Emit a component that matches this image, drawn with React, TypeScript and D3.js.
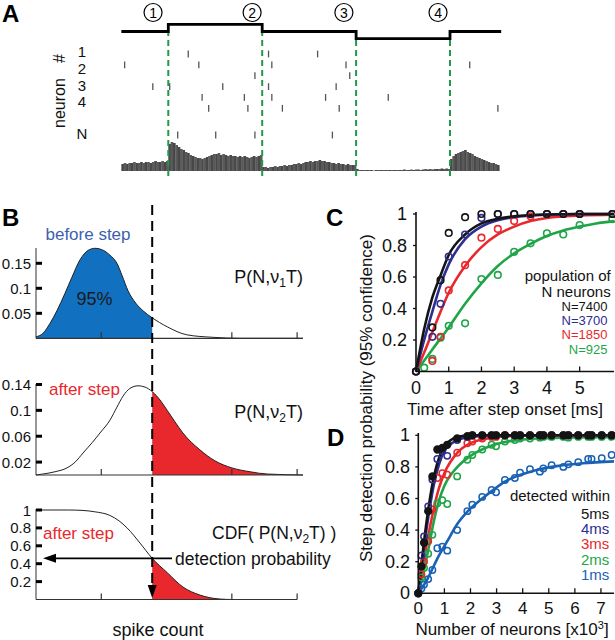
import React from 'react';
import * as d3 from 'd3';

const FONT = '"Liberation Sans", Arial, Helvetica, sans-serif';
const W = 615;
const H = 640;

// ---------------- Panel A data ----------------
const stepTimes = [0, 200, 600, 1000, 1400, 1618];
const stepLevels = [0, 1, 0, -1, 0, 0];
const markerTimes = [135, 557, 948, 1349];
const markerLabels = ['1', '2', '3', '4'];
const rowLabels = ['1', '2', '3', '4'];
const rasterSpikes: number[][] = [
  [285, 627, 836],
  [14, 330, 641, 957, 1484],
  [569, 973],
  [134, 206, 432, 627, 915],
  [344, 524, 641, 870, 1137],
  [372, 539, 686, 928, 1604],
  [240, 402, 569, 899],
];
const histBinMs = 10;
const histCounts = [
  7, 8, 7, 8, 8, 9, 8, 8, 9, 8, 9, 9, 8, 9, 10, 9, 9, 10, 9, 10,
  27, 29, 28, 26, 24, 22, 21, 19, 18, 16, 15, 14, 13, 13, 12, 13, 14, 15, 16, 17,
  17, 18, 16, 17, 16, 15, 16, 15, 15, 14, 15, 14, 15, 14, 13, 14, 15, 14, 15, 16,
  4, 4, 3, 4, 4, 5, 4, 5, 5, 6, 5, 6, 6, 7, 7, 8, 7, 8, 9, 9,
  10, 9, 10, 10, 11, 10, 10, 9, 9, 8, 8, 7, 8, 7, 7, 6, 7, 6, 6, 6,
  2, 1, 1, 1, 1, 1, 1, 0.5, 1, 1, 1, 1, 1, 1, 1, 1, 1, 1, 1, 1,
  1.5, 1, 1, 1.5, 1, 1.5, 1.5, 1, 1.5, 2, 1.5, 2, 1.5, 2, 2, 2, 2.5, 2, 2.5, 2,
  12, 15, 17, 18, 19, 20, 21, 19, 18, 17, 15, 14, 13, 12, 11, 10, 9, 8, 8, 7, 6,
];

// ---------------- Panel B data ----------------
const spikeThreshold = 1.78;
const pdfBefore: [number, number][] = [
  [0, 0.003], [0.107, 0.01], [0.215, 0.03], [0.32, 0.055], [0.444, 0.09], [0.55, 0.122],
  [0.674, 0.157], [0.8, 0.176], [0.904, 0.18], [1.03, 0.176], [1.134, 0.166], [1.24, 0.15],
  [1.32, 0.125], [1.41, 0.095], [1.53, 0.07], [1.64, 0.055], [1.78, 0.041], [2.01, 0.023],
  [2.31, 0.007], [2.71, 0.002], [3.13, 0.0], [4.09, 0],
];
const pdfAfter: [number, number][] = [
  [0, 0], [0.107, 0.0015], [0.29, 0.005], [0.475, 0.011], [0.6, 0.02], [0.72, 0.034],
  [0.86, 0.05], [0.98, 0.065], [1.134, 0.085], [1.24, 0.105], [1.333, 0.122], [1.44, 0.134],
  [1.563, 0.138], [1.67, 0.136], [1.78, 0.129], [1.9, 0.116], [2.01, 0.1], [2.13, 0.082],
  [2.25, 0.065], [2.51, 0.039], [2.74, 0.022], [3.0, 0.011], [3.28, 0.005], [3.54, 0.0015], [4.09, 0],
];
const cdfAfter: [number, number][] = [
  [0, 1], [0.5, 1], [0.72, 0.995], [0.9, 0.98], [1.13, 0.94], [1.27, 0.88], [1.395, 0.8],
  [1.594, 0.63], [1.78, 0.46], [2.01, 0.3], [2.25, 0.14], [2.51, 0.05], [2.82, 0.005], [3.02, 0], [4.0, 0],
];
const bTicksX = [1, 3, 4];
const b1TicksY = [0.05, 0.1, 0.15];
const b2TicksY = [0.02, 0.06, 0.1, 0.14];
const b3TicksY = [0.2, 0.4, 0.6, 0.8, 1];

// ---------------- Panel C data ----------------
const cSeriesNames = ['N=7400', 'N=3700', 'N=1850', 'N=925'];
const cPoints7400: [number, number][] = [[0, 0], [0.5, 0.28], [0.75, 0.58], [1, 0.88], [1.5, 0.98], [2, 1], [2.5, 1], [3, 1], [3.5, 1], [4, 1], [4.5, 1], [5, 1], [6, 1]];
const cPoints3700: [number, number][] = [[0, 0], [0.5, 0.22], [0.75, 0.43], [1, 0.73], [1.5, 0.87], [2, 0.975], [2.5, 1], [3, 1], [3.5, 1], [4, 1], [4.5, 1], [5, 1], [6, 1]];
const cPoints1850: [number, number][] = [[0, 0], [0.5, 0.067], [0.75, 0.22], [1, 0.515], [1.5, 0.675], [2, 0.85], [2.5, 0.905], [3, 0.955], [3.5, 0.985], [4, 1], [4.5, 1], [5, 1], [6, 1]];
const cPoints925: [number, number][] = [[0, 0], [0.25, 0.024], [0.5, 0.08], [0.75, 0.215], [1, 0.29], [1.5, 0.306], [2, 0.587], [2.5, 0.613], [3, 0.76], [3.5, 0.814], [4, 0.877], [4.5, 0.87], [5, 0.93], [6, 0.968]];
const cFit7400: [number, number][] = [[0, 0], [0.25, 0.27], [0.5, 0.47], [0.75, 0.61], [1, 0.74], [1.5, 0.87], [2, 0.94], [2.5, 0.97], [3, 0.985], [4, 0.997], [5, 1], [6.05, 1]];
const cFit3700: [number, number][] = [[0, 0], [0.25, 0.2], [0.5, 0.38], [0.75, 0.55], [1, 0.68], [1.5, 0.84], [2, 0.92], [2.5, 0.96], [3, 0.98], [4, 0.995], [5, 1], [6.05, 1]];
const cFit1850: [number, number][] = [[0, 0], [0.25, 0.12], [0.5, 0.25], [0.75, 0.38], [1, 0.5], [1.5, 0.67], [2, 0.79], [2.5, 0.87], [3, 0.92], [3.5, 0.955], [4, 0.975], [5, 0.99], [6.05, 0.995]];
const cFit925: [number, number][] = [[0, 0], [0.5, 0.14], [1, 0.28], [1.5, 0.43], [2, 0.56], [2.5, 0.67], [3, 0.75], [3.5, 0.81], [4, 0.86], [4.5, 0.895], [5, 0.92], [5.5, 0.94], [6.05, 0.955]];
const cTicksX = [0, 1, 2, 3, 4, 5];
const cTicksY = [0.2, 0.4, 0.6, 0.8, 1];

// ---------------- Panel D data ----------------
const dNames = ['5ms', '4ms', '3ms', '2ms', '1ms'];
const dNeurons = [0, 0.12, 0.22, 0.38, 0.54, 0.73, 0.92, 1.11, 1.49, 1.88, 2.07, 2.45, 2.81, 2.98, 3.32, 3.7, 3.9, 4.28, 4.66, 4.79, 5.11, 5.56, 5.75, 6.13, 6.51, 6.64, 7.03, 7.41];
const d5ms = [0, 0.17, 0.32, 0.52, 0.74, 0.91, 0.92, 0.94, 0.98, 0.995, 1, 1, 1, 1, 1, 1, 1, 1, 1, 1, 1, 1, 1, 1, 1, 1, 1, 1];
const d4ms = [0, 0.24, 0.36, 0.55, 0.72, 0.85, 0.9, 0.87, 0.97, 0.99, 1, 1, 1, 1, 1, 1, 1, 1, 1, 1, 1, 1, 1, 1, 1, 1, 1, 1];
const d3ms = [0, 0.12, 0.2, 0.33, 0.53, 0.73, 0.76, 0.75, 0.89, 0.95, 0.96, 0.98, 0.99, 0.99, 1, 1, 1, 1, 1, 1, 1, 1, 1, 1, 1, 1, 1, 1];
const d2ms = [0, 0.1, 0.16, 0.25, 0.37, 0.57, 0.59, 0.565, 0.74, 0.845, 0.875, 0.91, 0.94, 0.93, 0.96, 0.97, 0.98, 0.98, 0.985, 0.99, 0.99, 0.99, 0.985, 0.99, 0.99, 0.99, 0.99, 0.99];
const d1ms = [0, 0.03, 0.055, 0.09, 0.147, 0.285, 0.295, 0.27, 0.4, 0.52, 0.56, 0.61, 0.654, 0.64, 0.717, 0.73, 0.763, 0.785, 0.77, 0.79, 0.81, 0.8, 0.816, 0.83, 0.85, 0.85, 0.855, 0.875];
const dFit5: [number, number][] = [[0, 0], [0.2, 0.3], [0.4, 0.55], [0.6, 0.74], [0.8, 0.86], [1, 0.93], [1.25, 0.97], [1.5, 0.99], [2, 1], [7.5, 1]];
const dFit4: [number, number][] = [[0, 0], [0.2, 0.27], [0.4, 0.5], [0.6, 0.69], [0.8, 0.82], [1, 0.9], [1.5, 0.97], [2, 0.99], [3, 1], [7.5, 1]];
const dFit3: [number, number][] = [[0, 0], [0.2, 0.2], [0.4, 0.38], [0.6, 0.54], [0.8, 0.67], [1, 0.76], [1.5, 0.89], [2, 0.95], [2.5, 0.975], [3, 0.99], [4, 0.997], [7.5, 1]];
const dFit2: [number, number][] = [[0, 0], [0.2, 0.13], [0.4, 0.29], [0.6, 0.46], [0.8, 0.59], [1, 0.68], [1.5, 0.8], [2, 0.87], [2.5, 0.915], [3, 0.945], [3.5, 0.963], [4, 0.973], [5, 0.982], [6, 0.986], [7.5, 0.988]];
const dFit1: [number, number][] = [[0, 0], [0.35, 0.09], [0.73, 0.22], [1.11, 0.33], [1.5, 0.44], [1.9, 0.52], [2.45, 0.6], [2.8, 0.645], [3.3, 0.705], [4.3, 0.77], [5.3, 0.805], [6.3, 0.823], [7.5, 0.835]];
const dTicksX = [0, 1, 2, 3, 4, 5, 6, 7];
const dTicksY = [0, 0.2, 0.4, 0.6, 0.8, 1];

// colours
const BLACK = '#141414';
const NAVY = '#2e2d90';
const RED = '#e8282c';
const GREEN = '#1fa548';
const BLUE1 = '#1a62b4';
const FILL_BLUE = '#1270c0';
const GREEN_DASH = '#1f9a4a';

export default function App() {
  // ---- Panel A scales ----
  const xA = d3.scaleLinear().domain([0, 1600]).range([121.35, 496.95]);
  const yStep = d3.scaleLinear().domain([-1, 1]).range([38.7, 24.3]);
  const yHist = d3.scaleLinear().domain([0, 30]).range([171, 141]);
  const rowScale = d3.scaleLinear().domain([0, 5]).range([54, 108.3]);
  const rowY = (i: number) => (i < 6 ? rowScale(i) : 135);
  const labelY = d3.scaleLinear().domain([0, 3]).range([51.7, 101.7]);
  const stepLine = d3
    .line<number>()
    .x((_, i) => xA(stepTimes[i]))
    .y((d) => yStep(d))
    .curve(d3.curveStepAfter);
  const binPx = xA(histBinMs) - xA(0);

  // ---- Panel B scales ----
  const xB = d3.scaleLinear().domain([0, 4.09]).range([36, 303]);
  const yB1 = d3.scaleLinear().domain([0, 0.15]).range([338.3, 263.3]);
  const yB2 = d3.scaleLinear().domain([0, 0.14]).range([475, 384.5]);
  const yB3 = d3.scaleLinear().domain([0, 1]).range([599.5, 510]);
  const thrX = xB(spikeThreshold);
  const lineB = (y: d3.ScaleLinear<number, number>) =>
    d3.line<[number, number]>().x((d) => xB(d[0])).y((d) => y(d[1])).curve(d3.curveMonotoneX);
  const areaB = (y: d3.ScaleLinear<number, number>) =>
    d3.area<[number, number]>().x((d) => xB(d[0])).y0(y(0)).y1((d) => y(d[1])).curve(d3.curveMonotoneX);
  const cdfAtThr = (cdfAfter.find((d) => d[0] === spikeThreshold) || [0, 0.46])[1];
  const arrowY = yB3(cdfAtThr);

  // ---- Panel C scales ----
  const xC = d3.scaleLinear().domain([0, 6.05]).range([416, 614]);
  const yC = d3.scaleLinear().domain([0, 1]).range([371.5, 214]);
  const lineC = d3.line<[number, number]>().x((d) => xC(d[0])).y((d) => yC(d[1])).curve(d3.curveMonotoneX);
  const cSeries = [
    { pts: cPoints925, fit: cFit925, color: GREEN },
    { pts: cPoints1850, fit: cFit1850, color: RED },
    { pts: cPoints3700, fit: cFit3700, color: NAVY },
    { pts: cPoints7400, fit: cFit7400, color: BLACK },
  ];
  const cLegendColors = [BLACK, NAVY, RED, GREEN];

  // ---- Panel D scales ----
  const xD = d3.scaleLinear().domain([0, 7.5]).range([418.3, 614]);
  const yD = d3.scaleLinear().domain([0, 1]).range([593.3, 435.3]);
  const lineD = d3.line<[number, number]>().x((d) => xD(d[0])).y((d) => yD(d[1])).curve(d3.curveMonotoneX);
  const dSeries = [
    { vals: d1ms, fit: dFit1, color: BLUE1, filled: false },
    { vals: d2ms, fit: dFit2, color: GREEN, filled: false },
    { vals: d3ms, fit: dFit3, color: RED, filled: false },
    { vals: d4ms, fit: dFit4, color: NAVY, filled: false },
    { vals: d5ms, fit: dFit5, color: BLACK, filled: true },
  ];
  const dLegendColors = [BLACK, NAVY, RED, GREEN, BLUE1];

  const panelLabel = (t: string, x: number, y: number) => (
    <text x={x} y={y} fontSize={24} fontWeight="bold" fill="#000">
      {t}
    </text>
  );

  const leftTicks = (
    ticks: number[],
    y: d3.ScaleLinear<number, number>,
    x0: number,
    key: string
  ) =>
    ticks.map((t) => (
      <g key={key + t}>
        <line x1={x0} x2={x0 + 6} y1={y(t)} y2={y(t)} stroke="#000" strokeWidth={3} />
        <text x={x0 - 5} y={y(t)} fontSize={15} textAnchor="end" dominantBaseline="central" fill="#111">
          {String(t)}
        </text>
      </g>
    ));

  return (
    <svg
      width={W}
      height={H}
      style={{ position: 'absolute', left: 0, top: 0, background: '#fff' }}
      fontFamily={FONT}
    >
      <rect x={0} y={0} width={W} height={H} fill="#fff" />
      <defs>
        <clipPath id="clipLeft">
          <rect x={0} y={0} width={thrX} height={H} />
        </clipPath>
        <clipPath id="clipRight">
          <rect x={thrX} y={0} width={W - thrX} height={H} />
        </clipPath>
      </defs>

      {/* ================= Panel A ================= */}
      {panelLabel('A', 2, 22)}
      <g>
        {histCounts.map((c, i) => (
          <rect
            key={'h' + i}
            x={xA(i * histBinMs)}
            y={yHist(c)}
            width={binPx + 0.3}
            height={yHist(0) - yHist(c)}
            fill={i % 2 === 0 ? '#484848' : '#5a5a5a'}
          />
        ))}
      </g>
      {rasterSpikes.map((row, r) =>
        row.map((t, j) => (
          <line
            key={'s' + r + '_' + j}
            x1={xA(t)}
            x2={xA(t)}
            y1={rowY(r) - 3.4}
            y2={rowY(r) + 3.4}
            stroke="#555"
            strokeWidth={1.3}
          />
        ))
      )}
      {stepTimes.slice(1, 5).map((t, i) => (
        <line
          key={'gd' + i}
          x1={xA(t)}
          x2={xA(t)}
          y1={30}
          y2={178}
          stroke={GREEN_DASH}
          strokeWidth={2}
          strokeDasharray="6,4"
        />
      ))}
      <path d={stepLine(stepLevels) || ''} fill="none" stroke="#000" strokeWidth={2.8} />
      {markerTimes.map((t, i) => (
        <g key={'m' + i}>
          <circle cx={xA(t)} cy={12.5} r={9} fill="#fff" stroke="#000" strokeWidth={1.2} />
          <text x={xA(t)} y={12.5} fontSize={14} textAnchor="middle" dominantBaseline="central">
            {markerLabels[i]}
          </text>
        </g>
      ))}
      <text transform="translate(65,128) rotate(-90)" fontSize={16} fill="#111">
        neuron
      </text>
      <text transform="translate(65,63) rotate(-90)" fontSize={16} fill="#111">
        #
      </text>
      {rowLabels.map((l, i) => (
        <text key={'rl' + i} x={82} y={labelY(i)} fontSize={15} textAnchor="middle" dominantBaseline="central" fill="#111">
          {l}
        </text>
      ))}
      <text x={82} y={133.3} fontSize={15} textAnchor="middle" dominantBaseline="central" fill="#111">
        N
      </text>

      {/* ================= Panel B ================= */}
      {panelLabel('B', 2, 226)}
      <path d={areaB(yB1)(pdfBefore) || ''} fill={FILL_BLUE} clipPath="url(#clipLeft)" />
      <path d={lineB(yB1)(pdfBefore) || ''} fill="none" stroke="#222" strokeWidth={1} />
      <line x1={36} x2={303} y1={yB1(0)} y2={yB1(0)} stroke="#333" strokeWidth={1.2} />
      <line x1={36} x2={36} y1={yB1(0)} y2={248} stroke="#333" strokeWidth={1} />
      {bTicksX.map((t) => (
        <line key={'b1x' + t} x1={xB(t)} x2={xB(t)} y1={yB1(0)} y2={yB1(0) - 6} stroke="#333" strokeWidth={1.2} />
      ))}
      {leftTicks(b1TicksY, yB1, 36, 'b1y')}
      <text x={88} y={240} fontSize={17} textAnchor="middle" fill="#3d5fae">
        before step
      </text>
      <text x={94.5} y={304.5} fontSize={18} textAnchor="middle" fill="#1a1a1a">
        95%
      </text>
      <text x={303} y={283} fontSize={18} textAnchor="end" fill="#111">
        P(N,ν
        <tspan fontSize={12} dy={4}>
          1
        </tspan>
        <tspan dy={-4}>T)</tspan>
      </text>

      <path d={areaB(yB2)(pdfAfter) || ''} fill={RED} clipPath="url(#clipRight)" />
      <path d={lineB(yB2)(pdfAfter) || ''} fill="none" stroke="#222" strokeWidth={1} />
      <line x1={36} x2={303} y1={yB2(0)} y2={yB2(0)} stroke="#333" strokeWidth={1.2} />
      <line x1={36} x2={36} y1={yB2(0)} y2={384} stroke="#333" strokeWidth={1} />
      {bTicksX.map((t) => (
        <line key={'b2x' + t} x1={xB(t)} x2={xB(t)} y1={yB2(0)} y2={yB2(0) - 6} stroke="#333" strokeWidth={1.2} />
      ))}
      {leftTicks(b2TicksY, yB2, 36, 'b2y')}
      <text x={49} y={395} fontSize={17} fill={RED}>
        after step
      </text>
      <text x={303} y={418} fontSize={18} textAnchor="end" fill="#111">
        P(N,ν
        <tspan fontSize={12} dy={4}>
          2
        </tspan>
        <tspan dy={-4}>T)</tspan>
      </text>

      <path d={areaB(yB3)(cdfAfter) || ''} fill={RED} clipPath="url(#clipRight)" />
      <path d={lineB(yB3)(cdfAfter) || ''} fill="none" stroke="#222" strokeWidth={1} />
      <line x1={36} x2={297} y1={yB3(0)} y2={yB3(0)} stroke="#333" strokeWidth={1.2} />
      <line x1={36} x2={36} y1={yB3(0)} y2={509} stroke="#333" strokeWidth={1} />
      {bTicksX.map((t) => (
        <line key={'b3x' + t} x1={xB(t)} x2={xB(t)} y1={yB3(0)} y2={yB3(0) - 6} stroke="#333" strokeWidth={1.2} />
      ))}
      {leftTicks(b3TicksY, yB3, 36, 'b3y')}
      <text x={43} y={539} fontSize={17} fill={RED}>
        after step
      </text>
      <text x={212} y={539} fontSize={17.5} fill="#111">
        CDF( P(N,ν
        <tspan fontSize={12} dy={4}>
          2
        </tspan>
        <tspan dy={-4}>T) )</tspan>
      </text>
      <text x={175} y={564.5} fontSize={17.5} fill="#111">
        detection probability
      </text>
      <line x1={172} x2={54} y1={arrowY} y2={arrowY} stroke="#000" strokeWidth={1.6} />
      <polygon points={`43,${arrowY} 56,${arrowY - 4.5} 56,${arrowY + 4.5}`} fill="#000" />
      <line x1={thrX} x2={thrX} y1={205} y2={586} stroke="#000" strokeWidth={2} strokeDasharray="10,6" />
      <polygon points={`${thrX - 4.5},585 ${thrX + 4.5},585 ${thrX},598`} fill="#000" />
      <text x={158} y={636} fontSize={18} textAnchor="middle" fill="#111">
        spike count
      </text>

      {/* ================= Panel C ================= */}
      {panelLabel('C', 326, 226)}
      {cSeries.map((s, i) => (
        <path key={'cf' + i} d={lineC(s.fit) || ''} fill="none" stroke={s.color} strokeWidth={2.6} />
      ))}
      {cSeries.map((s, i) =>
        s.pts.map((p, j) => (
          <circle
            key={'cp' + i + '_' + j}
            cx={xC(p[0])}
            cy={yC(p[1])}
            r={3.3}
            fill="none"
            stroke={s.color}
            strokeWidth={1.6}
          />
        ))
      )}
      <line x1={416} x2={416} y1={yC(0)} y2={212} stroke="#111" strokeWidth={1.6} />
      <line x1={416} x2={614} y1={yC(0)} y2={yC(0)} stroke="#111" strokeWidth={1.6} />
      {cTicksX.map((t) => (
        <g key={'cx' + t}>
          {t > 0 && <line x1={xC(t)} x2={xC(t)} y1={yC(0)} y2={yC(0) - 5} stroke="#111" strokeWidth={1.3} />}
          <text x={xC(t)} y={393.5} fontSize={18} textAnchor="middle" fill="#111">
            {String(t)}
          </text>
        </g>
      ))}
      {cTicksY.map((t) => (
        <g key={'cy' + t}>
          <line x1={413} x2={416} y1={yC(t)} y2={yC(t)} stroke="#111" strokeWidth={1.3} />
          <text x={407} y={yC(t)} fontSize={18} textAnchor="end" dominantBaseline="central" fill="#111">
            {String(t)}
          </text>
        </g>
      ))}
      <text x={505} y={415} fontSize={17} textAnchor="middle" fill="#111">
        Time after step onset [ms]
      </text>
      <text x={610.7} y={281} fontSize={15} textAnchor="end" fill="#111">
        population of
      </text>
      <text x={610.7} y={296.5} fontSize={15} textAnchor="end" fill="#111">
        N neurons
      </text>
      {cSeriesNames.map((n, i) => (
        <text key={'cl' + i} x={607.5} y={311 + i * 14.2} fontSize={13} textAnchor="end" fill={cLegendColors[i]}>
          {n}
        </text>
      ))}

      <text transform="translate(372,398) rotate(-90)" fontSize={17} textAnchor="middle" fill="#111">
        Step detection probability (95% confidence)
      </text>

      {/* ================= Panel D ================= */}
      {panelLabel('D', 327, 446)}
      {dSeries.map((s, i) => (
        <path key={'df' + i} d={lineD(s.fit) || ''} fill="none" stroke={s.color} strokeWidth={2.6} />
      ))}
      {dSeries.map((s, i) =>
        s.vals.map((v, j) => (
          <circle
            key={'dp' + i + '_' + j}
            cx={xD(dNeurons[j])}
            cy={yD(v)}
            r={s.filled ? 3.4 : 3.2}
            fill={s.filled ? s.color : 'none'}
            stroke={s.color}
            strokeWidth={1.5}
          />
        ))
      )}
      <line x1={418.3} x2={418.3} y1={yD(0)} y2={433} stroke="#111" strokeWidth={1.6} />
      <line x1={418.3} x2={614} y1={yD(0)} y2={yD(0)} stroke="#111" strokeWidth={1.6} />
      {dTicksX.map((t) => (
        <g key={'dx' + t}>
          {t > 0 && <line x1={xD(t)} x2={xD(t)} y1={yD(0)} y2={yD(0) - 5} stroke="#111" strokeWidth={1.3} />}
          <text x={xD(t)} y={614} fontSize={17} textAnchor="middle" fill="#111">
            {String(t)}
          </text>
        </g>
      ))}
      {dTicksY.map((t) => (
        <g key={'dy' + t}>
          {t > 0 && <line x1={415.3} x2={418.3} y1={yD(t)} y2={yD(t)} stroke="#111" strokeWidth={1.3} />}
          <text x={410} y={yD(t)} fontSize={18} textAnchor="end" dominantBaseline="central" fill="#111">
            {String(t)}
          </text>
        </g>
      ))}
      <text x={512} y={635} fontSize={17} textAnchor="middle" fill="#111">
        Number of neurons [x10
        <tspan fontSize={11} dy={-6}>
          3
        </tspan>
        <tspan dy={6}>]</tspan>
      </text>
      <text x={610} y={501} fontSize={15} textAnchor="end" fill="#111">
        detected within
      </text>
      {dNames.map((n, i) => (
        <text key={'dl' + i} x={609.3} y={518.5 + i * 15.4} fontSize={15} textAnchor="end" fill={dLegendColors[i]}>
          {n}
        </text>
      ))}
    </svg>
  );
}
